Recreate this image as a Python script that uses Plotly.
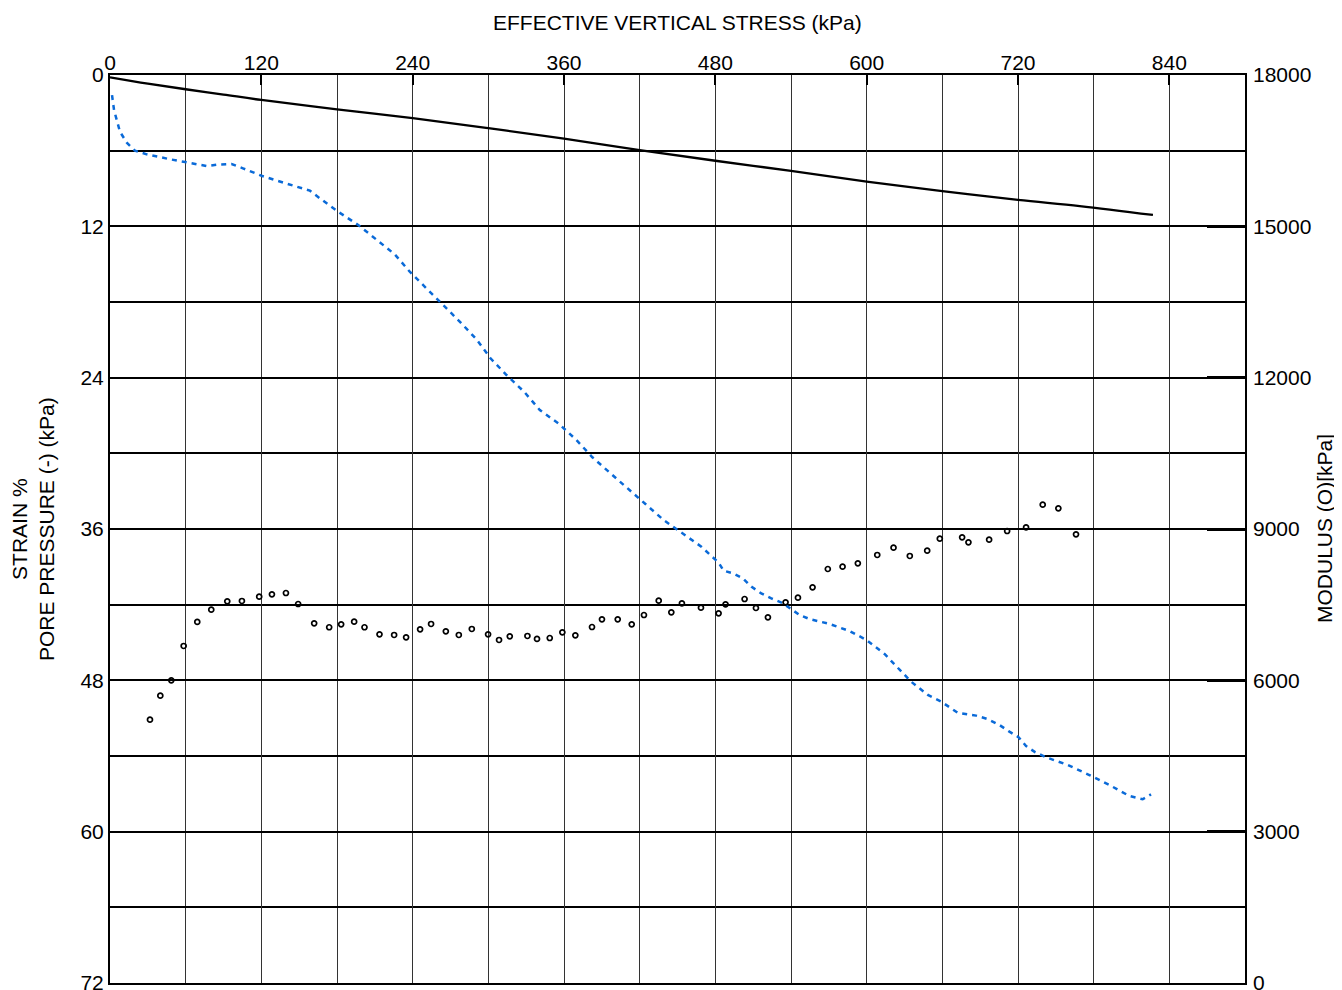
import plotly.graph_objects as go

# Strain % (black solid) vs effective vertical stress
strain_x = [0, 30, 60, 90, 120, 180, 240, 300, 360, 420, 480, 540, 600, 660, 720, 769, 827]
strain_y = [0.18, 0.68, 1.13, 1.55, 1.98, 2.72, 3.42, 4.22, 5.05, 5.95, 6.8, 7.6, 8.45, 9.2, 9.9, 10.39, 11.1]

# Pore pressure (blue dashed)
pore_x = [1.6, 3.2, 7.9, 13.5, 19.8, 29.1, 47.5, 60.2, 76.6, 84.6, 96.4, 105.4, 120.7, 130.8, 149.0,
          158.5, 166.4, 180.9, 196.8, 211.3, 225.8, 237.7, 251.0, 264.1, 277.9, 290.6, 301.7, 314.4,
          328.3, 340.8, 356.1, 369.8, 382.5, 396.8, 410.7, 424.8, 439.0, 453.8, 468.9, 476.0, 482.6,
          486.6, 493.9, 501.9, 508.5, 516.4, 524.4, 533.6, 546.8, 554.7, 570.6, 586.4, 599.9, 614.2,
          627.4, 635.3, 648.5, 659.1, 672.2, 686.8, 696.0, 705.3, 713.2, 720.6, 726.4, 733.8, 742.3,
          759.4, 776.6, 792.5, 808.3, 818.9, 825.5]
pore_y = [1.59, 2.78, 4.50, 5.39, 6.00, 6.29, 6.68, 6.92, 7.22, 7.11, 7.06, 7.40, 8.01, 8.33, 8.86,
          9.17, 9.78, 10.84, 11.89, 13.03, 14.22, 15.60, 16.91, 18.26, 19.61, 20.96, 22.46, 23.79,
          25.11, 26.56, 27.67, 28.94, 30.31, 31.58, 32.77, 34.04, 35.29, 36.34, 37.40, 38.06, 38.67,
          39.31, 39.51, 39.91, 40.57, 41.10, 41.50, 41.89, 42.82, 43.14, 43.53, 44.09, 44.80, 45.91,
          47.31, 48.11, 49.16, 49.69, 50.57, 50.80, 51.07, 51.54, 52.07, 52.52, 53.21, 53.71, 54.10,
          54.71, 55.51, 56.30, 57.17, 57.43, 57.04]

# Modulus (open circles, right axis)
mod_x = [31.7, 39.9, 48.6, 58.4, 69.2, 80.3, 93.0, 104.6, 118.3, 128.4, 139.5, 149.2, 161.9, 173.8,
         183.3, 193.6, 201.8, 213.7, 225.3, 234.8, 245.9, 254.6, 266.3, 276.6, 286.9, 299.8, 308.5,
         317.0, 331.0, 338.6, 348.7, 358.7, 369.0, 382.2, 390.1, 402.6, 413.7, 423.4, 435.1, 445.1,
         453.5, 468.6, 482.6, 488.1, 503.2, 512.2, 521.7, 535.7, 545.5, 557.1, 569.2, 580.9, 593.0,
         608.4, 621.3, 634.2, 648.0, 658.0, 675.7, 680.7, 697.1, 711.4, 726.4, 739.6, 752.0, 766.0]
mod_y = [5220, 5696, 6001, 6681, 7157, 7400, 7567, 7573, 7658, 7705, 7731, 7513, 7131, 7052,
         7111, 7163, 7052, 6913, 6899, 6853, 7012, 7117, 6972, 6899, 7018, 6913, 6800,
         6873, 6879, 6820, 6839, 6952, 6893, 7057, 7210, 7210, 7111, 7295, 7579, 7349,
         7527, 7440, 7329, 7507, 7612, 7434, 7250, 7547, 7638, 7844, 8207, 8253, 8320,
         8485, 8629, 8465, 8570, 8808, 8835, 8736, 8788, 8960, 9033, 9482, 9410, 8895]

x_ticks = [0, 120, 240, 360, 480, 600, 720, 840]
y_ticks = [0, 12, 24, 36, 48, 60, 72]
y2_ticks = [0, 3000, 6000, 9000, 12000, 15000, 18000]
y2_labels = ["0", "3000", "6000", "9000", "12000", "15000", "18000"]

FONT = "Liberation Sans, Arial, sans-serif"
FS = 21

fig = go.Figure()
fig.add_trace(go.Scatter(x=pore_x, y=pore_y, mode="lines", line=dict(color="#0a6ad8", width=2.5, dash="5px,5px"),
                         showlegend=False, hoverinfo="skip"))
fig.add_trace(go.Scatter(x=strain_x, y=strain_y, mode="lines", line=dict(color="black", width=2.3, shape="spline"),
                         showlegend=False, hoverinfo="skip"))
fig.add_trace(go.Scatter(x=mod_x, y=mod_y, mode="markers", yaxis="y2",
                         marker=dict(symbol="circle-open", size=5, color="black", line=dict(width=1.7, color="black")),
                         showlegend=False, hoverinfo="skip"))

# page body has an 8px default margin; margins compensate so the plot box sits at 110..1245 x 75..983
fig.update_layout(
    width=1342, height=990,
    margin=dict(l=102, r=105, t=67, b=15, autoexpand=False),
    paper_bgcolor="white", plot_bgcolor="white",
    font=dict(family=FONT, size=FS, color="black"),
    xaxis=dict(side="top", range=[0, 900], tickvals=x_ticks, ticks="inside", ticklen=10, tickwidth=2,
               tickcolor="black", showgrid=True, gridcolor="#333", gridwidth=1,
               minor=dict(dtick=60, tick0=0, showgrid=True, gridcolor="#333", gridwidth=1),
               showline=True, linecolor="black", linewidth=2, mirror=True, zeroline=False,
               tickfont=dict(size=FS), automargin=False, ticklabelstandoff=-5),
    yaxis=dict(range=[72, 0], tickvals=y_ticks, ticks="", showgrid=True, gridcolor="black", gridwidth=1.5,
               minor=dict(dtick=6, tick0=0, showgrid=True, gridcolor="black", gridwidth=1.5),
               showline=True, linecolor="black", linewidth=2, mirror=True, zeroline=False,
               tickfont=dict(size=FS), automargin=False),
    yaxis2=dict(overlaying="y", side="right", range=[0, 18000], tickvals=y2_ticks, ticktext=y2_labels,
                ticks="inside", ticklen=38, tickwidth=2.5, tickcolor="black", showgrid=False, zeroline=False,
                showline=False, tickfont=dict(size=FS), automargin=False, ticklabelstandoff=7),
)

fig.add_annotation(text="EFFECTIVE VERTICAL STRESS (kPa)", xref="paper", yref="paper", x=0.5, y=1,
                   yshift=53, showarrow=False, font=dict(size=FS), xanchor="center", yanchor="middle")
fig.add_annotation(text="STRAIN %<br>PORE PRESSURE (-) (kPa)", xref="paper", yref="paper", x=0, y=0.5,
                   xshift=-77, textangle=-90, showarrow=False, font=dict(size=FS),
                   xanchor="center", yanchor="middle")
fig.add_annotation(text="MODULUS (O)[kPa]", xref="paper", yref="paper", x=1, y=0.5,
                   xshift=79, textangle=-90, showarrow=False, font=dict(size=FS),
                   xanchor="center", yanchor="middle")

fig.write_html("out.html")
